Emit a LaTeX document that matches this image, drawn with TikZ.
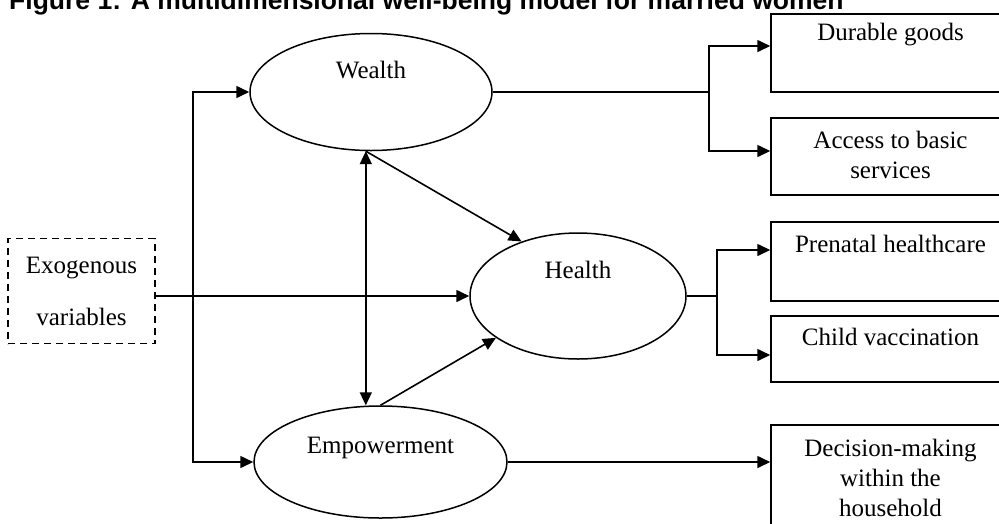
\documentclass[tikz,border=0pt]{standalone}
\usepackage{fontspec}
\setmainfont{Liberation Serif}
\newfontfamily\wbsans{Liberation Sans}
\usetikzlibrary{shapes.geometric,arrows.meta}
\tikzset{wbell/.style={ellipse,draw,line width=1.5pt,inner sep=0pt},
         wbbox/.style={rectangle,draw,line width=1.5pt,minimum width=239pt,inner sep=0pt},
         wbtxt/.style={font=\fontsize{25}{30}\selectfont,align=center,inner sep=0pt},
         wbline/.style={line width=1.6pt},
         wbarr/.style={line width=1.6pt,-{Triangle[length=13pt,width=12pt]}},
         wbdbl/.style={line width=1.6pt,{Triangle[length=13pt,width=12pt]}-{Triangle[length=13pt,width=12pt]}}}

\begin{document}
\begin{tikzpicture}[x=1pt,y=-1pt]
  \useasboundingbox (0,0) rectangle (999,523);
  \node[anchor=base west,inner sep=0pt,font=\wbsans\bfseries\fontsize{26.5}{30}\selectfont] (ttl) at (9,9)
     {Figure 1: A multidimensional well-being model for married women};
  % the three dimensions
  \foreach \n/\x/\y/\w/\h/\d/\t in {w/371/92/242/117/22/Wealth,h/578/296/216/126/26/Health,e/380.5/462/253/112/14/Empowerment}
     {\node[wbell,minimum width=\w pt,minimum height=\h pt] (\n) at (\x,\y) {};
      \node[wbtxt] (\n-t) at ([yshift=\d pt]\n.center) {\t};}
  % exogenous block
  \node[wbtxt,draw,line width=1.3pt,dash pattern=on 7pt off 5pt,minimum width=147pt,minimum height=105pt]
     (ex) at (81.5,291) {Exogenous\\[22pt]variables};
  % indicators
  \foreach \n/\y/\h/\d/\t in {dur/53/78/18/Durable goods,acc/156.5/77/1.5/{Access to basic\\services},
                             pre/261.5/79/17.5/Prenatal healthcare,chi/349/66/12/Child vaccination,
                             dec/482/114/4/{Decision-making\\within the\\household}}
     {\node[wbbox,minimum height=\h pt] (\n) at (890.5,\y) {};
      \node[wbtxt] (\n-t) at ([yshift=\d pt]\n.center) {\t};}
  % connectors
  \coordinate (xj) at (193,296);
  \coordinate (wj) at (709,92);
  \coordinate (hj) at (717,296);
  \draw[wbarr] (ex.east |- h.west) -- (h.west);
  \draw[wbarr] (xj) |- (w.west);
  \draw[wbarr] (xj) |- (e.west);
  \draw[wbdbl] (w.265) -- (w.265 |- e.north);
  \draw[wbarr] (w.265) -- (h.136);
  \draw[wbarr] (e.north) -- (h.207);
  \draw[wbline] (w.east) -- (wj);
  \draw[wbarr] (wj) |- ([yshift=7pt]dur.west);
  \draw[wbarr] (wj) |- ([yshift=5.5pt]acc.west);
  \draw[wbline] (h.east) -- (hj);
  \draw[wbarr] (hj) |- ([yshift=11.5pt]pre.west);
  \draw[wbarr] (hj) |- ([yshift=-6pt]chi.west);
  \draw[wbarr] (e.east) -- (e.east -| dec.west);
\end{tikzpicture}
\end{document}
